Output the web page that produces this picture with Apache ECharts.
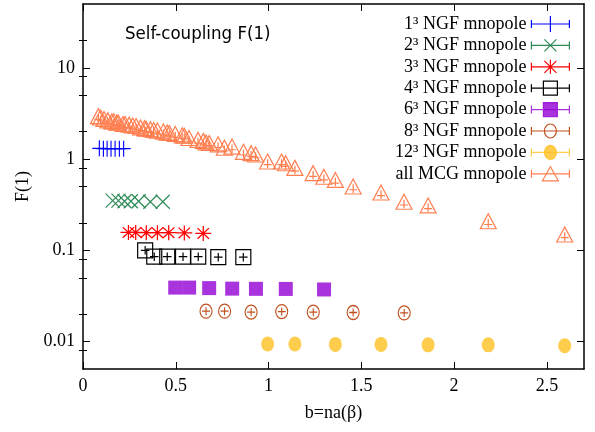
<!DOCTYPE html>
<html><head><meta charset="utf-8">
<script src="https://cdn.jsdelivr.net/npm/echarts@6/dist/echarts.min.js"></script>
<style>html,body{margin:0;padding:0;background:#fff}#c{width:595px;height:432px}</style>
</head><body><div id="c"></div>
<script>
// ---- data ----
const seriesNames = ['1³ NGF mnopole','2³ NGF mnopole','3³ NGF mnopole','4³ NGF mnopole','6³ NGF mnopole','8³ NGF mnopole','12³ NGF mnopole','all MCG mnopole'];
const bN1 = [0.088, 0.110, 0.130, 0.151, 0.173, 0.196, 0.219];
const fN1 = [1.31, 1.30, 1.30, 1.30, 1.30, 1.30, 1.30];
const bN2 = [0.160, 0.191, 0.224, 0.258, 0.300, 0.363, 0.430];
const fN2 = [0.35, 0.35, 0.345, 0.345, 0.345, 0.34, 0.34];
const bN3 = [0.245, 0.284, 0.341, 0.401, 0.462, 0.546, 0.648];
const fN3 = [0.157, 0.157, 0.156, 0.156, 0.156, 0.155, 0.153];
const bN4 = [0.335, 0.384, 0.454, 0.539, 0.621, 0.729, 0.864];
const fN4 = [0.100, 0.085, 0.085, 0.085, 0.085, 0.084, 0.084];
const bN6 = [0.497, 0.572, 0.680, 0.804, 0.932, 1.093, 1.299];
const fN6 = [0.039, 0.039, 0.0385, 0.038, 0.0378, 0.0377, 0.0372];
const bN8 = [0.663, 0.763, 0.906, 1.071, 1.241, 1.456, 1.731];
const fN8 = [0.0215, 0.0215, 0.021, 0.0213, 0.021, 0.0208, 0.0206];
const bN12 = [0.995, 1.142, 1.360, 1.606, 1.860, 2.184, 2.596];
const fN12 = [0.0094, 0.0094, 0.0093, 0.0093, 0.0092, 0.0092, 0.0090];
const bMCG = [0.083,0.095,0.113,0.134,0.155,0.182,0.216,
              0.166,0.190,0.227,0.268,0.310,0.364,0.433,
              0.249,0.286,0.340,0.401,0.465,0.546,0.649,
              0.332,0.381,0.453,0.535,0.620,0.728,0.865,
              0.497,0.571,0.680,0.803,0.930,1.092,1.298,
              0.663,0.762,0.906,1.070,1.240,1.456,1.730,
              0.995,1.142,1.360,1.606,1.860,2.184,2.596];
const fMCG = [2.95,2.85,2.75,2.65,2.58,2.50,2.42,
              2.60,2.52,2.42,2.33,2.22,2.12,2.00,
              2.38,2.30,2.15,2.05,1.93,1.80,1.58,
              2.18,2.08,1.95,1.82,1.62,1.45,1.20,
              1.88,1.70,1.50,1.37,1.12,0.90,0.64,
              1.52,1.33,1.16,0.94,0.70,0.50,0.34,
              0.94,0.80,0.59,0.43,0.31,0.208,0.149];
const xTicks = [0, 0.5, 1, 1.5, 2, 2.5];
const yMajor = [0.01, 0.1, 1, 10];
const yMinor = [0.008, 0.02, 0.05, 0.08, 0.2, 0.5, 0.8, 2, 5, 8, 20];

// ---- styles ----
const colors = ['#0000ff','#2e8b57','#ff0000','#000000','#9400d3','#c0501e','#ffc020','#ff7f50'];
const sym = [
  'path://M0,7L14,7M7,0L7,14',
  'path://M0,0L12,12M0,12L12,0',
  'path://M0,7L14,7M7,0L7,14M2,2L12,12M2,12L12,2',
  'path://M0,0L14,0L14,14L0,14ZM7,3L7,11M3,7L11,7',
  'rect',
  'path://M0,7A6,7 0 1,0 12,7A6,7 0 1,0 0,7ZM6,3L6,11M2,7L10,7',
  'circle',
  'path://M8,0L16,14L0,14ZM8,5L8,13M4,10L12,10'
];
const symSize = [[14,16],14,[16,15],15,14,[12,14],[13,15],[16,15]];
const filled = [false,false,false,false,true,false,true,false];
const legendIcons = [
  'path://M0,8L38,8M0,4L0,12M38,4L38,12M19,0L19,16',
  'path://M0,8L38,8M0,4L0,12M38,4L38,12M13,2L25,14M13,14L25,2',
  'path://M0,8L38,8M0,4L0,12M38,4L38,12M19,1L19,15M13,2L25,14M13,14L25,2',
  'path://M0,8L38,8M0,4L0,12M38,4L38,12M12,1L26,1L26,15L12,15Z',
  'path://M0,8L38,8M0,4L0,12M38,4L38,12M12,1L26,1L26,15L12,15Z',
  'path://M0,8L38,8M0,4L0,12M38,4L38,12M13,8A6,7 0 1,0 25,8A6,7 0 1,0 13,8Z',
  'path://M0,8L38,8M0,4L0,12M38,4L38,12M13,8A6,7 0 1,0 25,8A6,7 0 1,0 13,8Z',
  'path://M0,8L38,8M0,4L0,12M38,4L38,12M19,1L27,15L11,15Z'
];
const xs = [bN1,bN2,bN3,bN4,bN6,bN8,bN12,bMCG];
const ys = [fN1,fN2,fN3,fN4,fN6,fN8,fN12,fMCG];

const serif = "'Liberation Serif','Times New Roman',serif";
const series = [];
const legends = [];
const drawOrder = [7,0,1,2,3,4,5,6];
drawOrder.forEach(i => {
  const c = colors[i];
  series.push({
    type: 'scatter', name: seriesNames[i], xAxisIndex: 0, yAxisIndex: 0,
    symbol: sym[i], symbolSize: symSize[i],
    data: xs[i].map((b, k) => [b, ys[i][k]]),
    itemStyle: filled[i] ? {color: c, borderColor: c, borderWidth: 0}
                         : {color: 'rgba(0,0,0,0)', borderColor: c, borderWidth: 1.2, opacity: 1},
    emphasis: {disabled: true}, z: 3
  });
});
seriesNames.forEach((n, i) => {
  const c = colors[i];
  legends.push({
    orient: 'vertical', right: 25, top: 15 + i * 21.4, padding: 0,
    itemWidth: 38, itemHeight: 16, align: 'right', selectedMode: false,
    textStyle: {fontFamily: serif, fontSize: 18, color: '#000', lineHeight: 18},
    data: [{name: n, icon: legendIcons[i],
            itemStyle: {color: filled[i] ? c : 'rgba(0,0,0,0)', borderColor: c, borderWidth: 1.2}}]
  });
});

const axisLine = {show: true, onZero: false, lineStyle: {color: '#000', width: 1.5}};
const chart = echarts.init(document.getElementById('c'), null, {renderer: 'canvas'});
chart.setOption({
  animation: false,
  backgroundColor: '#fff',
  title: {text: 'Self-coupling F(1)', left: 125, top: 25, padding: 0,
          textStyle: {fontFamily: "'Liberation Sans Narrow','DejaVu Sans Condensed','Liberation Sans',sans-serif", fontSize: 18.5, fontWeight: 'normal', color: '#000'}},
  legend: legends,
  grid: {left: 83, right: 11, top: 4, bottom: 63, containLabel: false},
  xAxis: [
    {type: 'value', position: 'bottom', min: 0, max: 2.7, interval: 0.5,
     name: 'b=na(β)', nameLocation: 'middle', nameGap: 35,
     nameTextStyle: {fontFamily: serif, fontSize: 18, color: '#000'},
     axisLine: axisLine, splitLine: {show: false},
     axisTick: {show: true, inside: true, length: 7, customValues: xTicks, lineStyle: {color: '#000', width: 1}},
     axisLabel: {show: true, margin: 8, customValues: xTicks, fontFamily: serif, fontSize: 18, color: '#000',
                 formatter: v => String(v)}},
    {type: 'value', position: 'top', min: 0, max: 2.7, interval: 0.5,
     axisLine: axisLine, splitLine: {show: false},
     axisTick: {show: true, inside: true, length: 7, customValues: xTicks, lineStyle: {color: '#000', width: 1}},
     axisLabel: {show: false}}
  ],
  yAxis: [
    {type: 'log', logBase: 10, position: 'left', min: 0.005, max: 50,
     name: 'F(1)', nameLocation: 'middle', nameGap: 44, nameRotate: 90,
     nameTextStyle: {fontFamily: serif, fontSize: 18, color: '#000'},
     axisLine: axisLine, splitLine: {show: false}, minorTick: {show: false},
     axisTick: {show: true, inside: true, length: 7, customValues: yMajor, lineStyle: {color: '#000', width: 1}},
     axisLabel: {show: true, margin: 8, customValues: yMajor, fontFamily: serif, fontSize: 18, color: '#000',
                 formatter: v => String(+v.toPrecision(3))}},
    {type: 'log', logBase: 10, position: 'left', min: 0.005, max: 50,
     axisLine: {show: false}, splitLine: {show: false},
     axisTick: {show: true, inside: true, length: 4, customValues: yMinor, lineStyle: {color: '#000', width: 1}},
     axisLabel: {show: false}},
    {type: 'log', logBase: 10, position: 'right', min: 0.005, max: 50,
     axisLine: axisLine, splitLine: {show: false},
     axisTick: {show: true, inside: true, length: 7, customValues: yMajor, lineStyle: {color: '#000', width: 1}},
     axisLabel: {show: false}},
    {type: 'log', logBase: 10, position: 'right', min: 0.005, max: 50,
     axisLine: {show: false}, splitLine: {show: false},
     axisTick: {show: true, inside: true, length: 4, customValues: yMinor, lineStyle: {color: '#000', width: 1}},
     axisLabel: {show: false}}
  ],
  series: series
});
</script></body></html>
